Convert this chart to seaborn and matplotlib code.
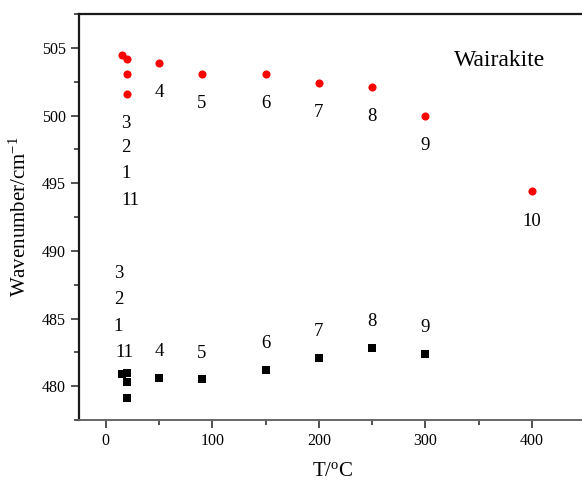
# Wairakite band positions vs temperature
import matplotlib
matplotlib.use('Agg')
import matplotlib.pyplot as plt
import seaborn as sns
import pandas as pd
from matplotlib.ticker import MultipleLocator

# Data
upper_T = [15, 20, 20, 20, 50, 90, 150, 200, 250, 300, 400]
upper_wn = [504.5, 504.2, 503.1, 501.6, 503.9, 503.1, 503.1, 502.4, 502.1, 500.0, 494.4]
lower_T = [15, 20, 20, 20, 50, 90, 150, 200, 250, 300]
lower_wn = [480.9, 481.0, 480.3, 479.1, 480.6, 480.5, 481.2, 482.1, 482.8, 482.4]

# point numbers shown next to single points (index into the arrays above)
upper_tags = {4: '4', 5: '5', 6: '6', 7: '7', 8: '8', 9: '9', 10: '10'}
lower_tags = {4: '4', 5: '5', 6: '6', 7: '7', 8: '8', 9: '9'}
# stacked numbers for the room-temperature points
upper_stack = [('3', 19, 499.4), ('2', 19, 497.6), ('1', 19, 495.7), ('11', 23.5, 493.7)]
lower_stack = [('3', 12, 488.3), ('2', 12, 486.4), ('1', 12, 484.4), ('11', 18, 482.5)]

upper = pd.DataFrame({'T': upper_T, 'wn': upper_wn})
lower = pd.DataFrame({'T': lower_T, 'wn': lower_wn})

sns.set_style('ticks')
plt.rcParams['font.family'] = ['Liberation Serif', 'DejaVu Serif']
plt.rcParams['mathtext.fontset'] = 'custom'
plt.rcParams['mathtext.rm'] = 'Liberation Serif'
plt.rcParams['mathtext.it'] = 'Liberation Serif:italic'
for key in ['text.color', 'axes.labelcolor', 'xtick.labelcolor', 'ytick.labelcolor']:
    plt.rcParams[key] = 'black'

fig = plt.figure(figsize=(5.82, 4.83), dpi=100)
ax = fig.add_axes([0.1357, 0.1304, 0.87, 0.8406])

sns.scatterplot(data=upper, x='T', y='wn', color='#ff0000', marker='o', s=34, linewidth=0, ax=ax)
sns.scatterplot(data=lower, x='T', y='wn', color='#000000', marker='s', s=40, linewidth=0, ax=ax)

# labels
for i, t in upper_tags.items():
    ax.annotate(t, (upper_T[i], upper_wn[i]), xytext=(0, -21.5), textcoords='offset points',
                ha='center', va='center', fontsize=13.5)
for i, t in lower_tags.items():
    ax.annotate(t, (lower_T[i], lower_wn[i]), xytext=(0, 19), textcoords='offset points',
                ha='center', va='center', fontsize=13.5)
for t, x, y in upper_stack + lower_stack:
    ax.text(x, y, t, ha='center', va='center', fontsize=13.5)

ax.text(0.83, 0.885, 'Wairakite', transform=ax.transAxes, ha='center', va='center', fontsize=17)

ax.set_xlim(-25, 450)
ax.set_ylim(477.5, 507.5)
ax.xaxis.set_major_locator(MultipleLocator(100))
ax.xaxis.set_minor_locator(MultipleLocator(50))
ax.yaxis.set_major_locator(MultipleLocator(5))
ax.yaxis.set_minor_locator(MultipleLocator(2.5))
ax.tick_params(which='major', length=6, width=1.1, labelsize=11.5, direction='out', color='#222222')
ax.tick_params(which='minor', length=3.5, width=1.1, direction='out', color='#222222')

ax.set_xlabel('T/$^{\\mathrm{o}}$C', fontsize=15, labelpad=9)
ax.set_ylabel('Wavenumber/cm$^{-1}$', fontsize=15, labelpad=8)

for side in ['top', 'left']:
    ax.spines[side].set_color('#1a1a1a')
    ax.spines[side].set_linewidth(1.6)
ax.spines['bottom'].set_color('#666666')
ax.spines['bottom'].set_linewidth(1.4)
ax.spines['right'].set_visible(False)

fig.savefig('out.png', dpi=100)
